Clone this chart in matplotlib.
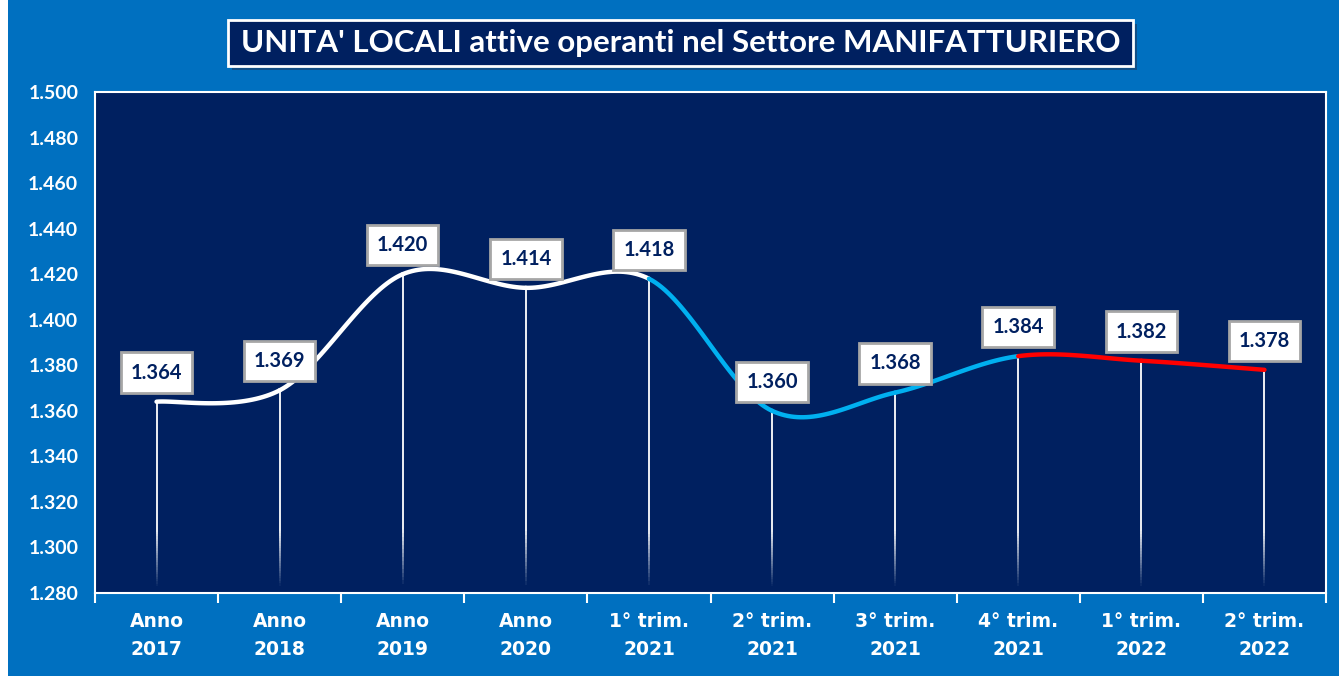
import numpy as np
import matplotlib.pyplot as plt
from matplotlib.patches import Rectangle
from matplotlib.collections import LineCollection

# data (values in units; Italian thousands separator in labels)
categories = ['Anno\n2017', 'Anno\n2018', 'Anno\n2019', 'Anno\n2020', '1° trim.\n2021',
              '2° trim.\n2021', '3° trim.\n2021', '4° trim.\n2021', '1° trim.\n2022', '2° trim.\n2022']
values = [1364, 1369, 1420, 1414, 1418, 1360, 1368, 1384, 1382, 1378]
segment_colors = ['white', 'white', 'white', 'white', '#00B0F0', '#00B0F0', '#00B0F0', 'red', 'red']
y_ticks = list(range(1280, 1501, 20))

BG = '#0070C0'
NAVY = '#002060'


def fmt(v):
    return '{:,}'.format(int(v)).replace(',', '.')


def excel_smooth(x, y, n=40):
    # Bezier smoothing similar to Excel's smoothed line
    pts = np.column_stack([x, y]).astype(float)
    ext = np.vstack([pts[0], pts, pts[-1]])
    curves = []
    for i in range(len(pts) - 1):
        p0, p1, p2, p3 = ext[i], ext[i + 1], ext[i + 2], ext[i + 3]
        c1 = p1 + (p2 - p0) / 6.0
        c2 = p2 - (p3 - p1) / 6.0
        t = np.linspace(0, 1, n)[:, None]
        b = ((1 - t) ** 3) * p1 + 3 * ((1 - t) ** 2) * t * c1 + 3 * (1 - t) * t ** 2 * c2 + t ** 3 * p2
        curves.append(b)
    return curves


def main():
    fig = plt.figure(figsize=(13.39, 6.76), dpi=100)
    fig.patch.set_facecolor(BG)
    fig.patches.append(Rectangle((0, 0), 8 / 1339, 1, transform=fig.transFigure,
                                 fc='white', ec='none', zorder=0))

    ax = fig.add_axes([95 / 1339, 1 - 593 / 676, 1231 / 1339, 501 / 676])
    ax.set_facecolor(NAVY)
    x = np.arange(len(values))

    # drop lines fading towards the bottom
    for xi, v in zip(x, values):
        ys = np.linspace(1282, v, 80)
        segs = [[(xi, ys[k]), (xi, ys[k + 1])] for k in range(len(ys) - 1)]
        alphas = np.clip((ys[:-1] - 1282) / 25.0, 0, 1)
        cols = [(1, 1, 1, a) for a in alphas]
        ax.add_collection(LineCollection(segs, colors=cols, linewidths=1.3, zorder=2))

    # smoothed line
    curves = excel_smooth(x, values)
    for c, col in zip(curves, segment_colors):
        ax.plot(c[:, 0], c[:, 1], color=col, lw=3.2, solid_capstyle='round', zorder=3)

    # data labels
    for xi, v in zip(x, values):
        ax.annotate(fmt(v), (xi, v), xytext=(0, 21), textcoords='offset points',
                    ha='center', va='center', fontsize=14.5, fontweight='bold',
                    color=NAVY, family='Lato', zorder=5,
                    bbox=dict(boxstyle='square,pad=0.5', fc='white', ec='#A6A6A6', lw=2))

    ax.set_xlim(-0.5, len(values) - 0.5)
    ax.set_ylim(1280, 1500)
    ax.set_yticks(y_ticks)
    ax.set_yticklabels([fmt(t) for t in y_ticks])
    ax.set_xticks(x)
    ax.set_xticklabels(categories)
    ax.set_xticks(np.arange(-0.5, len(values), 1), minor=True)
    ax.tick_params(axis='x', which='major', length=0, pad=14)
    ax.tick_params(axis='x', which='minor', length=7, width=1.5, color='white', direction='out')
    ax.tick_params(axis='y', length=0, pad=12)
    for lab in ax.get_xticklabels():
        lab.set_color('white')
        lab.set_fontweight('bold')
        lab.set_fontsize(13.5)
        lab.set_family('DejaVu Sans')
        lab.set_linespacing(1.55)
    for lab in ax.get_yticklabels():
        lab.set_color('white')
        lab.set_fontweight('bold')
        lab.set_fontsize(14)
        lab.set_family('Lato')
    for s in ax.spines.values():
        s.set_color('white')
        s.set_linewidth(1.5)

    # title box with shadow
    x0, x1 = 228 / 1339, 1133 / 1339
    y0, y1 = 1 - 66 / 676, 1 - 20 / 676
    fig.patches.append(Rectangle((x0 + 4 / 1339, y0 - 4 / 676), x1 - x0, y1 - y0,
                                 transform=fig.transFigure, fc='#1F3A60', ec='none', alpha=0.6))
    fig.patches.append(Rectangle((x0, y0), x1 - x0, y1 - y0, transform=fig.transFigure,
                                 fc=NAVY, ec='white', lw=2))
    fig.text((x0 + x1) / 2, (y0 + y1) / 2, "UNITA' LOCALI attive operanti nel Settore MANIFATTURIERO",
             ha='center', va='center', color='white', fontsize=22.5, fontweight='bold',
             family='Lato')

    fig.savefig('out.png', dpi=100, facecolor=fig.get_facecolor())


if __name__ == "__main__":
    main()
